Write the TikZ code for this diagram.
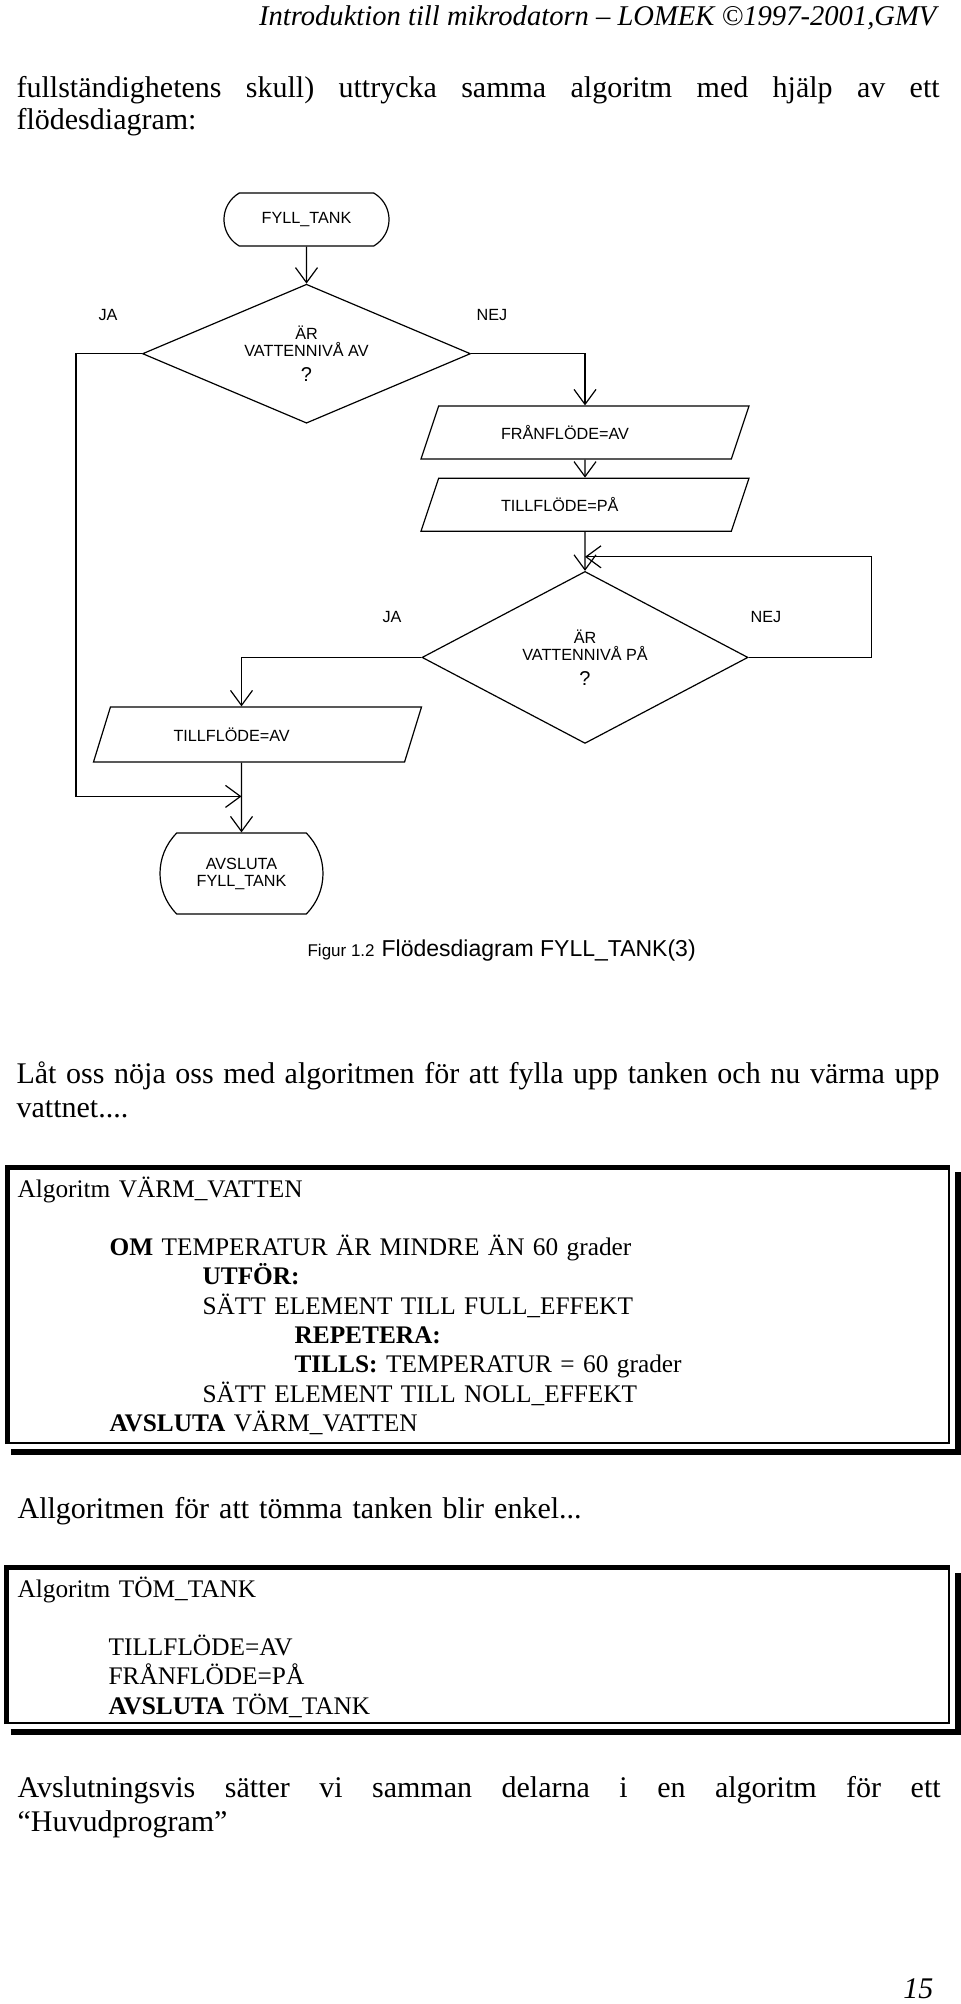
\documentclass[tikz,border=0pt]{standalone}
\usepackage{fontspec}
\setmainfont{Liberation Serif}
\newfontfamily\arial{Liberation Sans}
\usetikzlibrary{positioning,shapes.geometric,shapes.misc,arrows.meta}

\tikzset{
  flode/.style={font={\arial\fontsize{8.1}{8.5}\selectfont}},
  terminal/.style={flode, draw, rounded rectangle, align=center},
  beslut/.style={flode, draw, diamond, aspect=2, align=center},
  io/.style={flode, draw, trapezium, trapezium left angle=39, trapezium right angle=141,
    trapezium stretches body, minimum width=164pt, minimum height=26.5pt, text width=84pt, align=left},
  etikett/.style={flode},
  brodtext/.style={anchor=base west, text width=461.5pt, align=left, font=\fontsize{15}{17.25}\selectfont},
  kod/.style={anchor=base west, text width=440pt, align=left, font=\fontsize{12.66}{14.65}\selectfont},
  ruta/.style={draw, line width=1pt, anchor=north west},
  ramkant/.style={line width=2.5pt},
  skugga/.style={line width=3pt}
}
% rad som fylls ut till full bredd
\newcommand{\fullrad}[1]{\hbox to 461.5pt{\spaceskip=0.25em plus 1fil minus 0.05em #1}}

\begin{document}
\begin{tikzpicture}[x=0.5pt, y=-0.5pt, line width=0.6pt, >={Straight Barb[length=7.5pt,width=11pt]}, every node/.style={inner sep=0pt}]
\path[use as bounding box, fill=white] (0,0) rectangle (960,2004);

% sidhuvud och inledning
\node[anchor=base east, font=\itshape\fontsize{14.3}{16}\selectfont] (sidhuvud) at (937,25) {Introduktion till mikrodatorn – LOMEK ©1997-2001,GMV};
\node[brodtext, font=\fontsize{15}{16}\selectfont] (inledning) at (16,97) {\fullrad{fullständighetens skull) uttrycka samma algoritm med hjälp av ett}\\flödesdiagram:};

% flödesdiagram FYLL_TANK
\node[terminal, minimum width=82.5pt, minimum height=26.5pt, rounded rectangle arc length=120] (fyll) at (306.5,219.5) {FYLL\_TANK};
\node[beslut, minimum width=164pt, minimum height=69.5pt, below=18.5pt of fyll] (arav) {ÄR\\VATTENNIVÅ AV\\[4pt]{\fontsize{10}{8.5}\selectfont ?}};
\node[io] (franav) at (585,432.5) {FRÅNFLÖDE=AV};
\node[io, below=9pt of franav] (tillpa) {TILLFLÖDE=PÅ};
\node[beslut, minimum width=163pt, minimum height=86pt, below=19.5pt of tillpa] (arpa) {ÄR\\VATTENNIVÅ PÅ\\[4pt]{\fontsize{10}{8.5}\selectfont ?}};
\node[io, minimum height=27.5pt] (tillav) at (257.5,734.5) {TILLFLÖDE=AV};
\node[terminal, minimum width=81.5pt, minimum height=40.5pt, rounded rectangle arc length=90] (slut) at (241.5,873.5) {AVSLUTA\\FYLL\_TANK};
\coordinate[above=7pt of arpa.north] (aterloop);
\coordinate[above=18pt of slut.north] (samman);

\node[etikett] (ja1) at (108,315) {JA};
\node[etikett] (nej1) at (492,315) {NEJ};
\node[etikett] (ja2) at (392,617) {JA};
\node[etikett] (nej2) at (766,617) {NEJ};

\draw[->] (fyll) -- (arav);
\draw[->] (arav.east) -| (franav.north);
\draw[->] (franav) -- (tillpa);
\draw[->] (tillpa) -- (arpa);
\draw[->] (arpa.east) -- ++(123,0) |- (aterloop);
\draw[->] (arpa.west) -| (tillav.north -| slut.north);
\draw[->] (tillav.south -| slut.north) -- (slut);
\draw[->] (arav.west) -- ++(-66,0) |- (samman);

\node[anchor=base west] (figurtext) at (307,956) {{\arial\fontsize{8.5}{10}\selectfont Figur 1.2}\hspace{3.5pt}{\arial\fontsize{11.5}{13}\selectfont Flödesdiagram FYLL\_TANK(3)}};

% VÄRM_VATTEN
\node[brodtext] (varmning) at (16,1083) {\fullrad{Låt oss nöja oss med algoritmen för att fylla upp tanken och nu värma upp}\\vattnet....};
\node[ruta, minimum width=470.5pt, minimum height=137.5pt] (varmruta) at (7,1167) {};
\draw[ramkant] (varmruta.south west) |- (varmruta.north east);
\draw[skugga] ([xshift=2pt,yshift=-3.75pt]varmruta.south west) -| ([xshift=3.75pt,yshift=-2.5pt]varmruta.north east);
\node[kod] (varmkod) at (17,1197) {Algoritm VÄRM\_VATTEN\\[14.65pt]
\hspace*{46pt}\textbf{OM} TEMPERATUR ÄR MINDRE ÄN 60 grader\\
\hspace*{92.5pt}\textbf{UTFÖR:}\\
\hspace*{92.5pt}SÄTT ELEMENT TILL FULL\_EFFEKT\\
\hspace*{138.5pt}\textbf{REPETERA:}\\
\hspace*{138.5pt}\textbf{TILLS:} TEMPERATUR = 60 grader\\
\hspace*{92.5pt}SÄTT ELEMENT TILL NOLL\_EFFEKT\\
\hspace*{46pt}\textbf{AVSLUTA} VÄRM\_VATTEN};

% TÖM_TANK
\node[brodtext] (tomning) at (17,1518) {Allgoritmen för att tömma tanken blir enkel...};
\node[ruta, minimum width=470.75pt, minimum height=77.25pt] (tomruta) at (6.5,1567.5) {};
\draw[ramkant] (tomruta.south west) |- (tomruta.north east);
\draw[skugga] ([xshift=2pt,yshift=-3.75pt]tomruta.south west) -| ([xshift=3.75pt,yshift=-2.5pt]tomruta.north east);
\node[kod] (tomkod) at (17,1597) {Algoritm TÖM\_TANK\\[14.65pt]
\hspace*{45.5pt}TILLFLÖDE=AV\\
\hspace*{45.5pt}FRÅNFLÖDE=PÅ\\
\hspace*{45.5pt}\textbf{AVSLUTA} TÖM\_TANK};

% avslutning
\node[brodtext] (avslutning) at (17,1797) {\fullrad{Avslutningsvis sätter vi samman delarna i en algoritm för ett}\\“Huvudprogram”};
\node[anchor=base east, font=\itshape\fontsize{15}{17}\selectfont] (sidnummer) at (934,1998) {15};
\end{tikzpicture}
\end{document}
